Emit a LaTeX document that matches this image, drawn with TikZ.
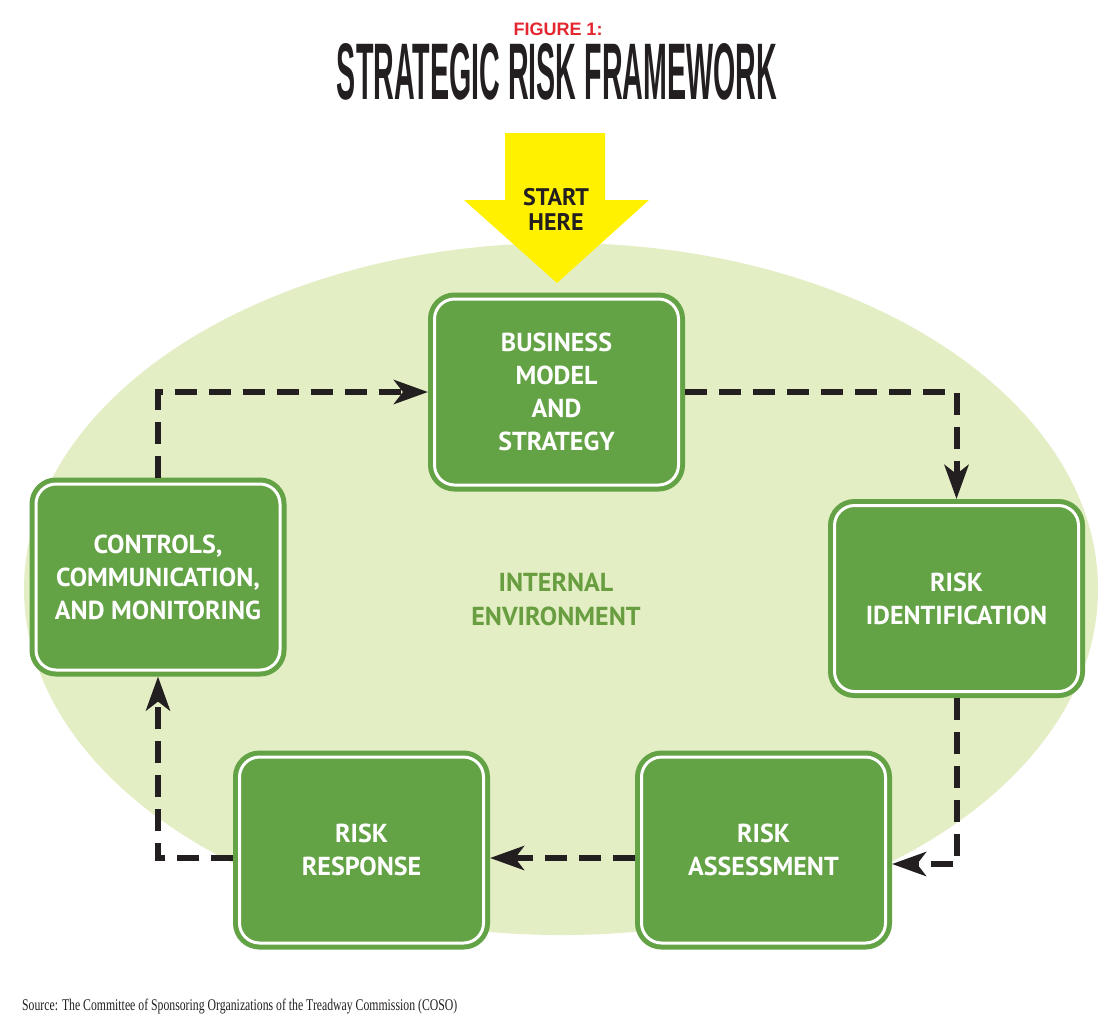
\documentclass[tikz,border=0pt]{standalone}
\usepackage{fontspec}
\setmainfont{Liberation Serif}
\newfontfamily\boxfont{PT Sans}
\newfontfamily\titlefont{Liberation Sans}
\usepackage{xcolor}
\usepackage{graphicx}
\usepackage{tikz}
\usetikzlibrary{arrows.meta,positioning}
\definecolor{boxgreen}{RGB}{100,162,70}
\definecolor{envgreen}{RGB}{228,238,196}
\definecolor{startyellow}{RGB}{255,241,0}
\definecolor{figred}{RGB}{227,38,47}
\definecolor{labelgreen}{RGB}{104,158,64}
\definecolor{inkblack}{RGB}{35,31,32}

\begin{document}
\begin{tikzpicture}[
  x=1pt,y=-1pt,
  stage/.style={rectangle,rounded corners=20pt,fill=boxgreen,draw=white,line width=3pt,
    preaction={draw=boxgreen,line width=13pt},minimum width=244pt,minimum height=186pt,
    outer sep=6.5pt,inner sep=0pt,align=center,text=white,
    font=\boxfont\bfseries\fontsize{26}{33}\selectfont},
  envlabel/.style={align=center,text=labelgreen,font=\boxfont\bfseries\fontsize{26}{34}\selectfont},
  arr/.style={-{Stealth[length=34pt,width=24pt,inset=9pt]},line width=6pt,draw=inkblack,
    dash pattern=on 22pt off 12pt}
]
\useasboundingbox (0,0) rectangle (1115,1029);
\fill[white] (0,0) rectangle (1115,1029);

% internal environment and start arrow
\fill[envgreen] (561,589) ellipse [x radius=537pt,y radius=346pt];
\fill[startyellow] (505,133) -- (605,133) -- (605,200) -- (649,200) -- (557,283) -- (464,200) -- (505,200) -- cycle;
\node[align=center,text=inkblack,font=\boxfont\bfseries\fontsize{24}{25}\selectfont] (start) at (556,209) {START\\HERE};

\node[text=figred,font=\titlefont\bfseries\fontsize{18}{20}\selectfont,inner sep=0pt] (fig) at (558,29) {FIGURE 1:};
\node[text=inkblack,inner sep=0pt] (title) at (557,72) {\resizebox{440pt}{56pt}{\titlefont\bfseries STRATEGIC RISK FRAMEWORK}};

\node[envlabel] (env) at (556,599) {INTERNAL\\ENVIRONMENT};

\node[stage] (bms) at (556.5,392) {BUSINESS\\MODEL\\AND\\STRATEGY};
\node[stage] (rid) at (956.5,598.5) {RISK\\IDENTIFICATION};
\node[stage] (rresp) at (361.5,850) {RISK\\RESPONSE};
\node[stage,right=145pt of rresp] (rass) {RISK\\ASSESSMENT};
\node[stage] (ctrl) at (158,577) {CONTROLS,\\COMMUNICATION,\\AND MONITORING};

\draw[arr] (ctrl.north) |- (bms.west);
\draw[arr] (bms.east) -| (rid.north);
\draw[arr] (rid.south) |- ([yshift=-14pt]rass.east);
\draw[arr] ([yshift=-8pt]rass.west) -- ([yshift=-8pt]rresp.east);
\draw[arr] ([yshift=-8pt]rresp.west) -| (ctrl.south);

\node[anchor=base west,text=inkblack,inner sep=0pt] (source) at (22,1010)
  {\resizebox{435pt}{11.5pt}{Source: The Committee of Sponsoring Organizations of the Treadway Commission (COSO)}};
\end{tikzpicture}
\end{document}
